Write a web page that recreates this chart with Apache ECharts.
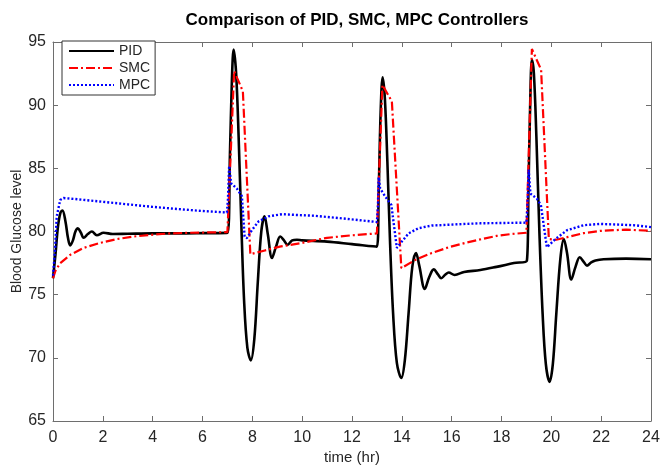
<!DOCTYPE html>
<html>
<head>
<meta charset="utf-8">
<script src="https://cdn.jsdelivr.net/npm/echarts@6/dist/echarts.min.js"></script>
<style>
html,body{margin:0;padding:0;background:#fff;}
#chart{width:669px;height:465px;}
</style>
</head>
<body>
<div id="chart"></div>
<script>
// ---- data (time in hours, blood glucose level) ----
var xTicks = [0, 2, 4, 6, 8, 10, 12, 14, 16, 18, 20, 22, 24];
var yTicks = [65, 70, 75, 80, 85, 90, 95];

var pidT = [0, 0.1, 0.2, 0.3, 0.38, 0.5, 0.6, 0.69, 0.8, 0.9, 1.0, 1.12, 1.23, 1.4, 1.56, 1.76, 2.03, 2.4, 3, 4, 5, 6, 7.0,
  7.1, 7.18, 7.25, 7.35, 7.45, 7.56, 7.67, 7.8, 7.94, 8.08, 8.22, 8.36, 8.49, 8.62, 8.79, 8.95, 9.12, 9.27, 9.41, 9.6, 9.79, 10, 11, 12, 13.0,
  13.07, 13.15, 13.23, 13.32, 13.42, 13.53, 13.65, 13.8, 13.98, 14.12, 14.27, 14.42, 14.57, 14.7, 14.92, 15.1, 15.28, 15.45, 15.58, 15.75, 15.88, 16.12, 16.5, 17.15, 17.8, 18.5, 19.02,
  19.08, 19.15, 19.22, 19.3, 19.4, 19.52, 19.65, 19.78, 19.93, 20.06, 20.2, 20.36, 20.5, 20.63, 20.8, 20.97, 21.14, 21.3, 21.43, 21.6, 21.77, 22.1, 23, 24];
var pidV = [76.3, 78.2, 80.4, 81.5, 81.65, 80.8, 79.5, 78.9, 79.3, 80.0, 80.25, 79.9, 79.5, 79.8, 80.0, 79.7, 79.9, 79.8, 79.82, 79.85, 79.85, 79.87, 79.9,
  86.0, 92.0, 94.4, 92.5, 87.5, 80.5, 74.5, 70.8, 69.8, 71.5, 76.0, 80.0, 81.2, 79.8, 77.9, 78.8, 79.6, 79.3, 78.95, 79.3, 79.35, 79.3, 79.2, 79.0, 78.8,
  83.0, 89.5, 92.2, 90.5, 85.5, 79.0, 73.5, 69.6, 68.4, 69.8, 73.5, 77.2, 78.3, 77.3, 75.45, 76.4, 77.0, 76.6, 76.3, 76.6, 76.75, 76.56, 76.8, 76.95, 77.2, 77.5, 77.7,
  83.0, 90.0, 93.6, 92.5, 87.5, 80.0, 73.5, 69.5, 68.1, 69.5, 73.5, 77.8, 79.4, 78.3, 76.2, 77.2, 77.96, 77.6, 77.3, 77.55, 77.7, 77.8, 77.85, 77.8];

var smcT = [0, 0.1, 0.29, 0.69, 1.23, 1.9, 2.56, 3.23, 3.9, 4.7, 5.5, 7.0,
  7.04, 7.27, 7.62, 7.92, 8.5, 9.1, 10, 11, 12, 13.0,
  13.04, 13.22, 13.6, 13.98, 14.54, 15.2, 15.88, 16.55, 17.2, 17.8, 18.4, 19.0,
  19.02, 19.22, 19.59, 19.9, 20.2, 20.63, 21.3, 21.97, 23, 24];
var smcV = [76.3, 76.9, 77.5, 78.15, 78.7, 79.1, 79.4, 79.6, 79.73, 79.85, 79.9, 79.95,
  80.0, 92.7, 91.1, 78.2, 78.5, 78.8, 79.1, 79.5, 79.7, 79.85,
  80.0, 91.6, 90.3, 77.1, 77.75, 78.3, 78.75, 79.1, 79.4, 79.65, 79.8, 79.9,
  80.0, 94.45, 92.8, 79.4, 79.35, 79.55, 79.87, 80.05, 80.15, 80.05];

var mpcT = [0, 0.08, 0.15, 0.29, 0.42, 1, 2, 3, 4, 5, 6, 6.98,
  7.02, 7.07, 7.15, 7.38, 7.58, 7.69, 7.78, 7.98, 8.25, 8.65, 9.19, 9.86, 10.46, 11.8, 13.0,
  13.04, 13.07, 13.13, 13.34, 13.58, 13.8, 14.0, 14.27, 14.67, 15.2, 16.55, 17.15, 19.0,
  19.04, 19.09, 19.16, 19.42, 19.58, 19.82, 20.16, 20.63, 21.3, 21.97, 23.3, 24];
var mpcV = [76.5, 78.5, 81.2, 82.5, 82.65, 82.55, 82.35, 82.15, 81.95, 81.78, 81.62, 81.5,
  82.5, 85.2, 83.8, 83.4, 82.8, 79.6, 79.47, 80.1, 80.8, 81.2, 81.37, 81.3, 81.25, 81.0, 80.75,
  82.0, 84.3, 83.4, 82.75, 82.1, 78.7, 79.2, 79.85, 80.26, 80.47, 80.6, 80.65, 80.7,
  82.0, 84.9, 83.0, 82.6, 82.1, 78.75, 79.4, 80.1, 80.5, 80.6, 80.5, 80.35];

function zip(t, v) { return t.map(function (x, i) { return [x, v[i]]; }); }

var FONT = 'Liberation Sans, Arial, sans-serif';
var AXC = '#6e6e6e';
var TXT = '#262626';

var chart = echarts.init(document.getElementById('chart'), null, {renderer: 'canvas'});

function xAx(pos, labels) {
  return {
    type: 'value', position: pos, min: xTicks[0], max: xTicks[xTicks.length - 1], interval: 2,
    axisLine: {show: true, onZero: false, lineStyle: {color: AXC, width: 1}},
    axisTick: {show: true, inside: true, length: 5, lineStyle: {color: AXC}},
    axisLabel: {show: labels, color: TXT, fontFamily: FONT, fontSize: 16, margin: 9},
    splitLine: {show: false},
    name: labels ? 'time (hr)' : '', nameLocation: 'middle', nameGap: 29, nameMoveOverlap: false,
    nameTextStyle: {color: TXT, fontFamily: FONT, fontSize: 15}
  };
}
function yAx(pos, labels) {
  return {
    type: 'value', position: pos, min: yTicks[0], max: yTicks[yTicks.length - 1], interval: 5,
    axisLine: {show: true, onZero: false, lineStyle: {color: AXC, width: 1}},
    axisTick: {show: true, inside: true, length: 5, lineStyle: {color: AXC}},
    axisLabel: {show: labels, color: TXT, fontFamily: FONT, fontSize: 16, margin: 7},
    splitLine: {show: false},
    name: labels ? 'Blood Glucose level' : '', nameLocation: 'middle', nameGap: 29, nameRotate: 90,
    nameMoveOverlap: false,
    nameTextStyle: {color: TXT, fontFamily: FONT, fontSize: 14}
  };
}

chart.setOption({
  animation: false,
  backgroundColor: '#ffffff',
  title: {
    text: 'Comparison of PID, SMC, MPC Controllers',
    left: 352, top: 7, textAlign: 'center',
    textStyle: {fontFamily: FONT, fontSize: 17, fontWeight: 'bold', color: '#000'}
  },
  grid: {left: 53, right: 18, top: 42, bottom: 44, containLabel: false, outerBoundsMode: 'none'},
  legend: {
    orient: 'vertical', left: 62, top: 41,
    backgroundColor: '#fff', borderColor: '#333', borderWidth: 1,
    padding: [3, 5, 3, 6], itemGap: 3, itemWidth: 45, itemHeight: 14,
    itemStyle: {color: 'rgba(0,0,0,0)', borderColor: 'rgba(0,0,0,0)', borderWidth: 0, opacity: 0},
    textStyle: {fontFamily: FONT, fontSize: 14, color: TXT},
    data: ['PID', 'SMC', 'MPC']
  },
  xAxis: [xAx('bottom', true), xAx('top', false)],
  yAxis: [yAx('left', true), yAx('right', false)],
  series: [
    {name: 'PID', type: 'line', data: zip(pidT, pidV), showSymbol: false, symbol: 'none', smooth: 0.35,
      lineStyle: {color: '#000', width: 2.6}, itemStyle: {color: '#000'}, z: 3},
    {name: 'SMC', type: 'line', data: zip(smcT, smcV), showSymbol: false, symbol: 'none', smooth: false,
      lineStyle: {color: '#ff0000', width: 2.2, type: [9, 3, 2, 3]}, itemStyle: {color: '#ff0000'}, z: 4},
    {name: 'MPC', type: 'line', data: zip(mpcT, mpcV), showSymbol: false, symbol: 'none', smooth: false,
      lineStyle: {color: '#0000ff', width: 2.4, type: [2, 2]}, itemStyle: {color: '#0000ff'}, z: 5}
  ]
});
</script>
</body>
</html>
